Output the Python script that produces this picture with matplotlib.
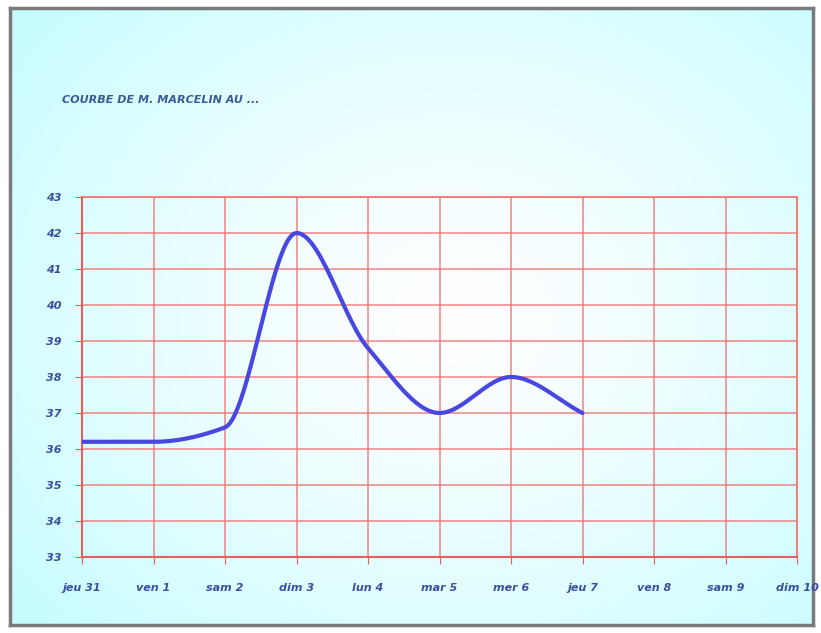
import numpy as np
import matplotlib
matplotlib.use('Agg')
import matplotlib.pyplot as plt

# data
jours = ['jeu 31', 'ven 1', 'sam 2', 'dim 3', 'lun 4', 'mar 5',
         'mer 6', 'jeu 7', 'ven 8', 'sam 9', 'dim 10']
temp = [36.2, 36.2, 36.6, 42.0, 38.8, 37.0, 38.0, 37.0]
yticks = [33, 34, 35, 36, 37, 38, 39, 40, 41, 42, 43]
titre = 'COURBE DE M. MARCELIN AU ...'

W, H = 821, 633
fig = plt.figure(figsize=(W/100, H/100), dpi=100)

# background with frame
bg = fig.add_axes([10/W, 8/H, 803/W, 617/H])
yy, xx = np.mgrid[0:1:300j, 0:1:400j]
d = np.sqrt(((xx-0.55)/0.7)**2 + ((yy-0.5)/0.75)**2)
d = np.clip(d, 0, 1)**1.3
c_edge = np.array([0.78, 0.99, 1.0])
c_mid = np.array([1.0, 1.0, 1.0])
img = c_mid[None, None, :]*(1-d[..., None]) + c_edge[None, None, :]*d[..., None]
bg.imshow(img, aspect='auto', extent=[0, 1, 0, 1])
bg.set_xticks([])
bg.set_yticks([])
for s in bg.spines.values():
    s.set_color('#7a7a7a')
    s.set_linewidth(2.5)

bg.text(52/803, 1-92/617, titre, transform=bg.transAxes, fontsize=8,
        fontstyle='italic', fontweight='bold', color='#3a5a9a', va='center')

ax = fig.add_axes([82/W, 76/H, 715/W, 360/H])
ax.patch.set_alpha(0)

def lisse(x, y, n=30):
    # monotone cubic (Fritsch-Carlson) for a smoothed line without overshoot
    x = np.asarray(x, float)
    y = np.asarray(y, float)
    h = np.diff(x)
    dl = np.diff(y)/h
    m = np.zeros_like(y)
    m[0], m[-1] = dl[0], dl[-1]
    for i in range(1, len(y)-1):
        if dl[i-1]*dl[i] <= 0:
            m[i] = 0
        else:
            m[i] = 2/(1/dl[i-1] + 1/dl[i])
    ox, oy = [], []
    t = np.linspace(0, 1, n)
    for i in range(len(x)-1):
        h00 = 2*t**3 - 3*t**2 + 1
        h10 = t**3 - 2*t**2 + t
        h01 = -2*t**3 + 3*t**2
        h11 = t**3 - t**2
        ox.extend(x[i] + t*h[i])
        oy.extend(h00*y[i] + h10*h[i]*m[i] + h01*y[i+1] + h11*h[i]*m[i+1])
    return ox, oy

sx, sy = lisse(range(len(temp)), temp)
ax.plot(sx, sy, color='#4848e0', lw=3, solid_capstyle='round', zorder=3)

ax.set_xlim(0, len(jours)-1)
ax.set_ylim(33, 43)
ax.set_xticks(range(len(jours)))
ax.set_xticklabels(jours)
ax.set_yticks(yticks)
ax.grid(True, color='#f07070', lw=1.2, alpha=0.8)
for s in ['top', 'right']:
    ax.spines[s].set_color('#f07070')
    ax.spines[s].set_linewidth(1.2)
for s in ['left', 'bottom']:
    ax.spines[s].set_color('#e06060')
    ax.spines[s].set_linewidth(1.5)
ax.tick_params(axis='both', colors='#e06060', direction='out', length=5,
               labelcolor='#3a4fa0', labelsize=8)
ax.tick_params(axis='x', pad=14)
ax.tick_params(axis='y', pad=10)
for lab in ax.get_xticklabels() + ax.get_yticklabels():
    lab.set_fontweight('bold')
    lab.set_fontstyle('italic')

fig.savefig('out.png', dpi=100)
